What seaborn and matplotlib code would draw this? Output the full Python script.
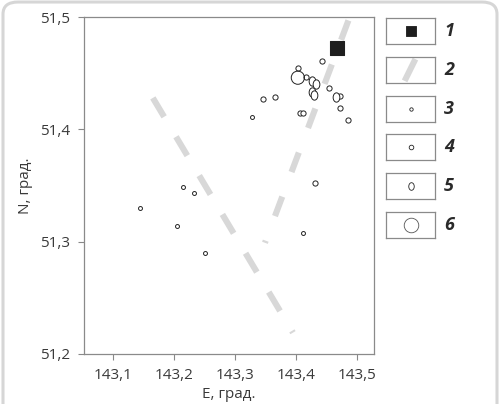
import numpy as np
import pandas as pd
import seaborn as sns
import matplotlib.pyplot as plt
import matplotlib.path as mpath
from matplotlib.patches import FancyBboxPatch

# epicentre coordinates, grouped by symbol class (legend 1, 3-6)
main_e = [143.468]
main_n = [51.472]

tiny_e = [143.327, 143.214, 143.232, 143.144, 143.204, 143.250, 143.411]
tiny_n = [51.411, 51.349, 51.343, 51.330, 51.314, 51.290, 51.308]

small_e = [143.442, 143.403, 143.416, 143.454, 143.473, 143.473, 143.485,
           143.406, 143.411, 143.365, 143.345, 143.431]
small_n = [51.461, 51.455, 51.447, 51.437, 51.430, 51.419, 51.408,
           51.415, 51.415, 51.429, 51.427, 51.352]

mid_e = [143.426, 143.432, 143.427, 143.429, 143.465]
mid_n = [51.443, 51.440, 51.433, 51.431, 51.429]

big_e = [143.403]
big_n = [51.446]

# two fault lines (endpoints)
fault_a_e = [143.165, 143.395]
fault_a_n = [51.428, 51.219]
fault_b_e = [143.486, 143.349]
fault_b_n = [51.497, 51.299]

xticks = [143.1, 143.2, 143.3, 143.4, 143.5]
yticks = [51.2, 51.3, 51.4, 51.5]
legend_labels = ['1', '2', '3', '4', '5', '6']

sns.set_style('white')
plt.rcParams['font.family'] = ['Open Sans', 'DejaVu Sans']

fig = plt.figure(figsize=(5, 4.04), dpi=100)
fig.patches.append(FancyBboxPatch((0.006, -0.05), 0.988, 1.045,
                                  boxstyle='round,pad=0,rounding_size=0.03',
                                  transform=fig.transFigure, fill=False,
                                  edgecolor='#d6d6d6', linewidth=2.2))

ax = fig.add_axes([0.168, 0.1238, 0.58, 0.834])

fault_col = '#d8d8d8'
ax.plot(fault_a_e, fault_a_n, color=fault_col, lw=4.4, dashes=(3.6, 3.8),
        solid_capstyle='butt', dash_capstyle='butt', zorder=1)
ax.plot(fault_b_e, fault_b_n, color=fault_col, lw=4.4, dashes=(3.4, 4.3),
        solid_capstyle='butt', dash_capstyle='butt', zorder=1)

circ = mpath.Path.unit_circle()
ellipse = mpath.Path(circ.vertices * np.array([0.72, 1.0]), circ.codes)

kw = dict(facecolor='white', edgecolor='#222222', linewidth=0.7, legend=False, ax=ax, zorder=3)
sns.scatterplot(x=tiny_e, y=tiny_n, s=8, marker='o', **kw)
sns.scatterplot(x=small_e, y=small_n, s=14, marker='o', **kw)
sns.scatterplot(x=mid_e, y=mid_n, s=45, marker=ellipse, **kw)
sns.scatterplot(x=big_e, y=big_n, s=90, marker='o', facecolor='none',
                edgecolor='#222222', linewidth=0.7, legend=False, ax=ax, zorder=4)
sns.scatterplot(x=main_e, y=main_n, s=95, marker='s', color='#1e1e1e',
                edgecolor='#1e1e1e', legend=False, ax=ax, zorder=5)

ax.set_xlim(143.052, 143.528)
ax.set_ylim(51.2, 51.5)
ax.set_xticks(xticks)
ax.set_yticks(yticks)
ax.set_xticklabels([f'{v:.1f}'.replace('.', ',') for v in xticks])
ax.set_yticklabels([f'{v:.1f}'.replace('.', ',') for v in yticks])
ax.tick_params(axis='both', length=4, width=0.8, color='#888888',
               labelsize=11, labelcolor='#3a3a3a', direction='out',
               bottom=True, left=True, pad=6)
for sp in ax.spines.values():
    sp.set_color('#8a8a8a')
    sp.set_linewidth(0.9)
ax.set_xlabel('E, град.', fontsize=11, color='#3a3a3a', labelpad=3)
ax.set_ylabel('N, град.', fontsize=11, color='#3a3a3a', labelpad=5)

# legend: one framed box per symbol
tops = [18, 57, 96, 134, 173, 212]
for i, lab in enumerate(legend_labels):
    bottom = (404 - tops[i] - 26) / 404
    lax = fig.add_axes([0.772, bottom, 0.098, 26 / 404])
    lax.set_xlim(0, 1)
    lax.set_ylim(0, 1)
    lax.set_xticks([])
    lax.set_yticks([])
    for sp in lax.spines.values():
        sp.set_color('#8a8a8a')
        sp.set_linewidth(0.9)
    if lab == '1':
        sns.scatterplot(x=[0.5], y=[0.5], s=60, marker='s', color='#1e1e1e',
                        edgecolor='#1e1e1e', legend=False, ax=lax)
    elif lab == '2':
        lax.plot([0.38, 0.6], [0.08, 0.92], color=fault_col, lw=4.4,
                 solid_capstyle='butt')
    elif lab == '3':
        sns.scatterplot(x=[0.5], y=[0.5], s=6, marker='o', legend=False,
                        facecolor='white', edgecolor='#222222', linewidth=0.6, ax=lax)
    elif lab == '4':
        sns.scatterplot(x=[0.5], y=[0.5], s=11, marker='o', legend=False,
                        facecolor='white', edgecolor='#222222', linewidth=0.6, ax=lax)
    elif lab == '5':
        sns.scatterplot(x=[0.5], y=[0.5], s=30, marker=ellipse, legend=False,
                        facecolor='white', edgecolor='#222222', linewidth=0.6, ax=lax)
    else:
        sns.scatterplot(x=[0.5], y=[0.5], s=110, marker='o', legend=False,
                        facecolor='white', edgecolor='#555555', linewidth=0.6, ax=lax)
    fig.text(0.898, (404 - tops[i] - 13) / 404, lab, fontsize=13,
             fontweight='bold', fontstyle='italic', color='#2a2a2a',
             ha='center', va='center')

fig.savefig('out.png', dpi=100)
